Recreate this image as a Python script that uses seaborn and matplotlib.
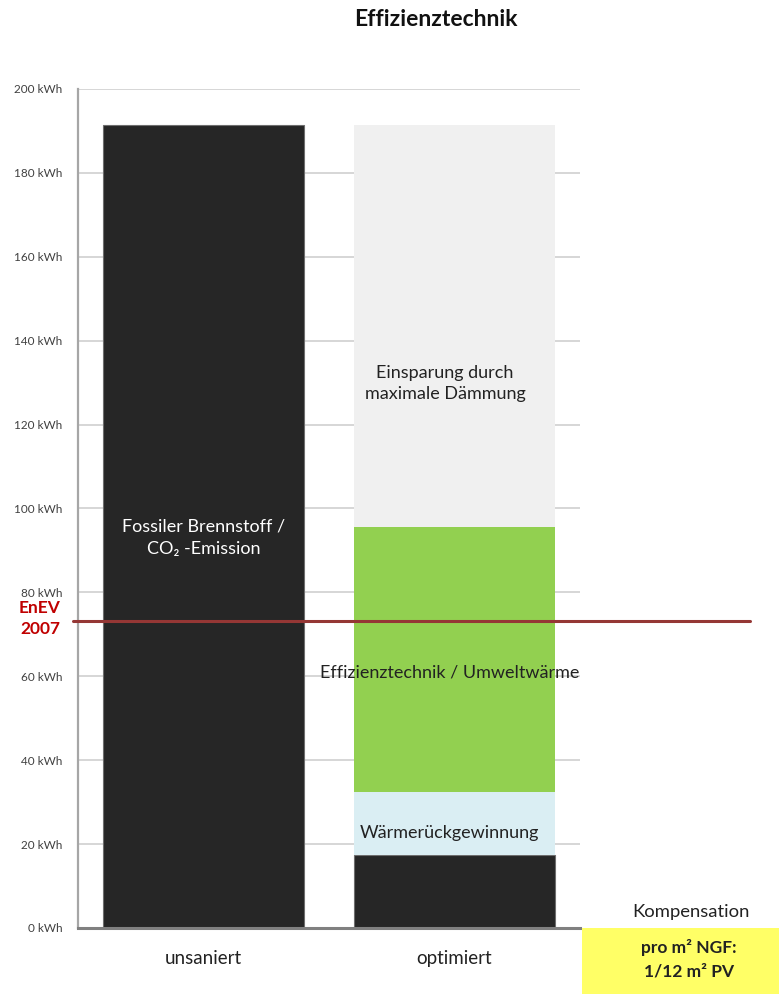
import matplotlib
matplotlib.use("Agg")
import matplotlib.pyplot as plt
import seaborn as sns
import pandas as pd
from matplotlib.patches import Rectangle
from matplotlib.lines import Line2D

# Energy demand per m² (kWh) for the two building states, stacked by share
categories = ["unsaniert", "optimiert"]
fossil = [191.5, 17.5]          # Fossiler Brennstoff / CO2-Emission
waermerueck = [0.0, 15.0]       # Wärmerückgewinnung
effizienz = [0.0, 63.0]         # Effizienztechnik / Umweltwärme
einsparung = [0.0, 96.0]        # Einsparung durch maximale Dämmung
enev_2007 = 73.2
y_ticks = [0, 20, 40, 60, 80, 100, 120, 140, 160, 180, 200]
y_tick_labels = [f"{v} kWh" for v in y_ticks]

sns.set_theme(style="white")
plt.rcParams["font.family"] = ["Lato", "DejaVu Sans"]

fig = plt.figure(figsize=(7.79, 9.94), dpi=100)
ax = fig.add_axes([0.1001, 0.0664, 0.6445, 0.8441])

layers = [
    (fossil, "#262626", "#6E6E6E", 0.8),
    (waermerueck, "#DAEEF3", "none", 0),
    (effizienz, "#92D050", "none", 0),
    (einsparung, "#F0F0F0", "none", 0),
]
bottom = [0.0, 0.0]
for values, color, edge, lw in layers:
    df = pd.DataFrame({"Zustand": categories, "kWh": values})
    sns.barplot(data=df, x="Zustand", y="kWh", color=color, width=0.8,
                bottom=bottom, ax=ax, linewidth=lw, edgecolor=edge,
                saturation=1, zorder=2)
    bottom = [b + v for b, v in zip(bottom, values)]

ax.set_xlim(-0.5, 1.5)
ax.set_ylim(0, 200)
ax.set_yticks(y_ticks)
ax.set_yticklabels(y_tick_labels, fontsize=8.5, color="#404040")
ax.set_xticks([0, 1])
ax.set_xticklabels(categories, fontsize=13.5, color="#222222")
ax.tick_params(axis="both", length=0)
ax.tick_params(axis="y", pad=11)
ax.tick_params(axis="x", pad=16)
ax.set_xlabel("")
ax.set_ylabel("")
ax.yaxis.grid(True, color="#D0D0D0", linewidth=1.2, zorder=0)
ax.set_axisbelow(True)
for side in ["top", "right"]:
    ax.spines[side].set_visible(False)
ax.spines["left"].set_color("#A6A6A6")
ax.spines["left"].set_linewidth(1.6)
ax.spines["bottom"].set_color("#808080")
ax.spines["bottom"].set_linewidth(2.2)

# Segment labels
ax.text(0, 93, "Fossiler Brennstoff /\nCO₂ -Emission", ha="center", va="center",
        color="white", fontsize=13, linespacing=1.45, zorder=5)
ax.text(0.962, 129.7, "Einsparung durch\nmaximale Dämmung", ha="center", va="center",
        color="#222222", fontsize=13, linespacing=1.4, zorder=5)
ax.text(0.982, 61, "Effizienztechnik / Umweltwärme", ha="center", va="center",
        color="#222222", fontsize=13, zorder=5)
ax.text(0.98, 22.6, "Wärmerückgewinnung", ha="center", va="center",
        color="#222222", fontsize=13, zorder=5)

# EnEV 2007 reference line across the figure
y_line = ax.transData.transform((0, enev_2007))[1]
y_fig = fig.transFigure.inverted().transform((0, y_line))[1]
fig.add_artist(Line2D([73 / 779, 750 / 779], [y_fig, y_fig], color="#953735",
                      linewidth=2.2, zorder=6))
fig.text(40 / 779, y_fig + 0.0025, "EnEV\n2007", ha="center", va="center",
         color="#C00000", fontsize=12.5, fontweight="bold", linespacing=1.45)

# Title
fig.text(436 / 779, 1 - 20 / 994, "Effizienztechnik", ha="center", va="center",
         fontsize=16.5, color="#111111", fontweight="bold")

# Compensation box
fig.text(691 / 779, 1 - 912 / 994, "Kompensation", ha="center", va="center",
         fontsize=13.3, color="#222222")
fig.add_artist(Rectangle((582 / 779, 0), 197 / 779, 66 / 994,
                         transform=fig.transFigure, facecolor="#FFFF66",
                         edgecolor="none"))
fig.text(689 / 779, 1 - 959 / 994, "pro m² NGF:\n1/12 m² PV", ha="center",
         va="center", fontsize=12.5, color="#222222", linespacing=1.55,
         fontweight="bold")

fig.savefig("out.png", dpi=100)
